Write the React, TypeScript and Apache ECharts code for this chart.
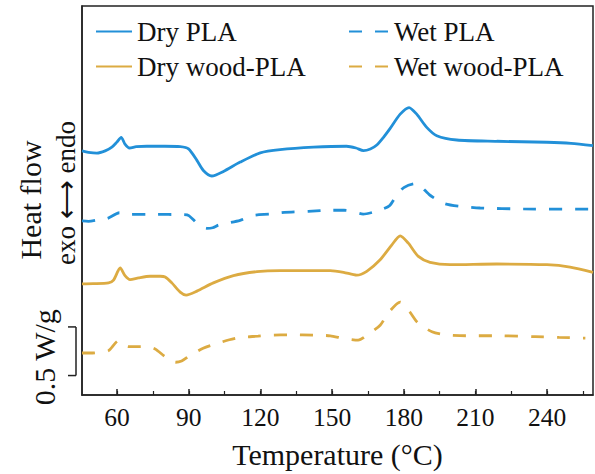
import React, { useEffect, useRef } from "react";
import * as echarts from "echarts";

// Temperature (°C) and heat flow (W/g, curves offset vertically)
const dryPlaT = [45.3, 48, 51.5, 55, 57.8, 59.9, 61.7, 63.3, 65.2, 68, 72.4, 80, 86.4, 89.9, 93.4, 96.1, 99.6, 104.5, 111.5, 119.9, 128.2, 142.2, 156, 160, 163.1, 166, 168.7, 171.5, 174.3, 178.5, 182.2, 185.4, 189.6, 193.8, 202.2, 218.9, 239.9, 250, 259.2];
const dryPlaV = [2.51, 2.495, 2.487, 2.51, 2.548, 2.6, 2.65, 2.58, 2.54, 2.553, 2.558, 2.558, 2.554, 2.531, 2.413, 2.309, 2.252, 2.299, 2.395, 2.49, 2.523, 2.548, 2.558, 2.54, 2.513, 2.53, 2.571, 2.65, 2.742, 2.888, 2.956, 2.888, 2.752, 2.666, 2.622, 2.609, 2.599, 2.588, 2.564];

const wetPlaT = [45.3, 48, 52, 56, 61, 65, 75, 88, 90, 94, 97.5, 100, 102.5, 111.5, 117, 124, 130, 140, 150, 155, 158, 163, 168, 171, 174, 177, 180, 184.5, 187, 191, 197, 203, 212, 230, 259.2];
const wetPlaV = [1.79, 1.785, 1.8, 1.816, 1.874, 1.857, 1.857, 1.854, 1.845, 1.755, 1.714, 1.72, 1.748, 1.796, 1.847, 1.86, 1.878, 1.888, 1.9, 1.9, 1.891, 1.86, 1.885, 1.91, 1.946, 2.054, 2.133, 2.173, 2.148, 2.054, 1.969, 1.942, 1.923, 1.913, 1.911];

const dryWoodT = [45.3, 50, 56.4, 58.5, 61.3, 63.3, 65.4, 69, 73.8, 78, 80.1, 82.9, 86.4, 88.9, 93.4, 100.3, 108.7, 118.5, 128.2, 142.2, 149.2, 154.8, 160.3, 164.5, 170.1, 175, 178.5, 181.9, 186.1, 191, 199.4, 218.9, 239.9, 249.6, 259.2];
const dryWoodV = [1.143, 1.145, 1.153, 1.181, 1.306, 1.228, 1.187, 1.205, 1.221, 1.221, 1.214, 1.153, 1.058, 1.028, 1.068, 1.153, 1.228, 1.268, 1.279, 1.279, 1.279, 1.262, 1.232, 1.272, 1.391, 1.544, 1.636, 1.561, 1.425, 1.364, 1.34, 1.347, 1.34, 1.316, 1.262];

const wetWoodT = [45.3, 49, 53, 56.4, 60.6, 63, 65, 70, 74, 76, 80.5, 84.5, 87, 90, 96, 101, 107, 111.5, 119, 124, 133, 142, 149.2, 154.8, 160.9, 165.7, 170.1, 173.6, 178.5, 182.5, 185.8, 191.8, 197.4, 206, 220, 235, 245, 256];
const wetWoodV = [0.432, 0.432, 0.44, 0.456, 0.558, 0.51, 0.497, 0.497, 0.49, 0.472, 0.388, 0.337, 0.35, 0.398, 0.48, 0.523, 0.568, 0.592, 0.605, 0.615, 0.619, 0.615, 0.609, 0.582, 0.564, 0.636, 0.717, 0.847, 0.956, 0.854, 0.745, 0.65, 0.619, 0.609, 0.609, 0.6, 0.592, 0.585];

const seriesNames = ["Dry PLA", "Wet PLA", "Dry wood-PLA", "Wet wood-PLA"];
const majorTicks = [60, 90, 120, 150, 180, 210, 240];
const minorTicks = [45, 60, 75, 90, 105, 120, 135, 150, 165, 180, 195, 210, 225, 240, 255];
const scaleBar = [0.2, 0.7]; // 0.5 W/g

const BLUE = "#2290d8";
const GOLD = "#dcab42";
const FONT = "'Liberation Serif', 'Times New Roman', serif";

const zip = (t: number[], v: number[]) => t.map((x, i) => [x, v[i]]);

export default function App() {
  const ref = useRef<HTMLDivElement>(null);
  useEffect(() => {
    if (!ref.current) return;
    const chart = echarts.init(ref.current, undefined, { renderer: "svg" });
    const mk = (name: string, t: number[], v: number[], color: string, dashed: boolean) => ({
      name,
      type: "line",
      data: zip(t, v),
      symbol: "none",
      smooth: 0.25,
      xAxisIndex: 0,
      yAxisIndex: 0,
      lineStyle: { color, width: 2.8, type: dashed ? [13, 13] : "solid" },
      itemStyle: { color },
    });
    const legendBase = {
      orient: "vertical",
      top: 13,
      itemHeight: 14,
      itemGap: 8,
      itemStyle: { opacity: 0 },
      textStyle: { fontFamily: FONT, fontSize: 27, color: "#111" },
    };
    const xMin = 45.3;
    const xMax = 259.2;
    chart.setOption({
      animation: false,
      grid: {
        left: 82,
        right: 2,
        top: 6,
        bottom: 76,
        show: true,
        borderColor: "#222",
        borderWidth: 1.5,
        backgroundColor: "transparent",
      },
      legend: [
        { ...legendBase, data: [seriesNames[0], seriesNames[2]], left: 90, itemWidth: 36 },
        { ...legendBase, data: [seriesNames[1], seriesNames[3]], left: 343, itemWidth: 40 },
      ],
      xAxis: [
        {
          type: "value",
          min: xMin,
          max: xMax,
          name: "Temperature (°C)",
          nameLocation: "middle",
          nameGap: 44,
          nameTextStyle: { fontFamily: FONT, fontSize: 30, color: "#111" },
          axisLine: { show: true, lineStyle: { color: "#222", width: 1.5 } },
          axisTick: { show: true, inside: true, length: 6, customValues: majorTicks, lineStyle: { color: "#222", width: 1.5 } },
          axisLabel: { show: true, customValues: majorTicks, margin: 9, fontFamily: FONT, fontSize: 25.5, color: "#111" },
          splitLine: { show: false },
        },
        {
          type: "value",
          min: xMin,
          max: xMax,
          position: "bottom",
          axisLine: { show: false },
          axisTick: { show: true, inside: true, length: 4, customValues: minorTicks, lineStyle: { color: "#222", width: 1.2 } },
          axisLabel: { show: false },
          splitLine: { show: false },
        },
      ],
      yAxis: {
        type: "value",
        min: 0,
        max: 4,
        axisLine: { show: true, lineStyle: { color: "#222", width: 1.5 } },
        axisTick: { show: false },
        axisLabel: { show: false },
        splitLine: { show: false },
      },
      series: [
        mk(seriesNames[0], dryPlaT, dryPlaV, BLUE, false),
        mk(seriesNames[1], wetPlaT, wetPlaV, BLUE, true),
        mk(seriesNames[2], dryWoodT, dryWoodV, GOLD, false),
        mk(seriesNames[3], wetWoodT, wetWoodV, GOLD, true),
      ],
    });

    const yTop = chart.convertToPixel({ yAxisIndex: 0 }, scaleBar[1]) as number;
    const yBot = chart.convertToPixel({ yAxisIndex: 0 }, scaleBar[0]) as number;
    const barX = 76;
    const lineStyle = { stroke: "#222", lineWidth: 1.5 };
    chart.setOption({
      graphic: [
        {
          type: "text",
          x: 30,
          y: 200,
          rotation: Math.PI / 2,
          style: { text: "Heat flow", fontFamily: FONT, fontSize: 30, fill: "#111", textAlign: "center", textVerticalAlign: "middle" },
        },
        {
          type: "text",
          x: 66,
          y: 193,
          rotation: Math.PI / 2,
          style: { text: "exo ⟷ endo", fontFamily: FONT, fontSize: 27, fill: "#111", textAlign: "center", textVerticalAlign: "middle" },
        },
        {
          type: "text",
          x: 44,
          y: (yTop + yBot) / 2 + 6,
          rotation: Math.PI / 2,
          style: { text: "0.5 W/g", fontFamily: FONT, fontSize: 30, fill: "#111", textAlign: "center", textVerticalAlign: "middle" },
        },
        { type: "line", shape: { x1: barX, y1: yTop, x2: barX, y2: yBot }, style: lineStyle },
        { type: "line", shape: { x1: barX - 8, y1: yTop, x2: barX, y2: yTop }, style: lineStyle },
        { type: "line", shape: { x1: barX - 8, y1: yBot, x2: barX, y2: yBot }, style: lineStyle },
      ],
    });
    return () => chart.dispose();
  }, []);
  return (
    <div
      ref={ref}
      style={{ position: "fixed", left: 0, top: 0, width: 595, height: 474, background: "#fff" }}
    />
  );
}
